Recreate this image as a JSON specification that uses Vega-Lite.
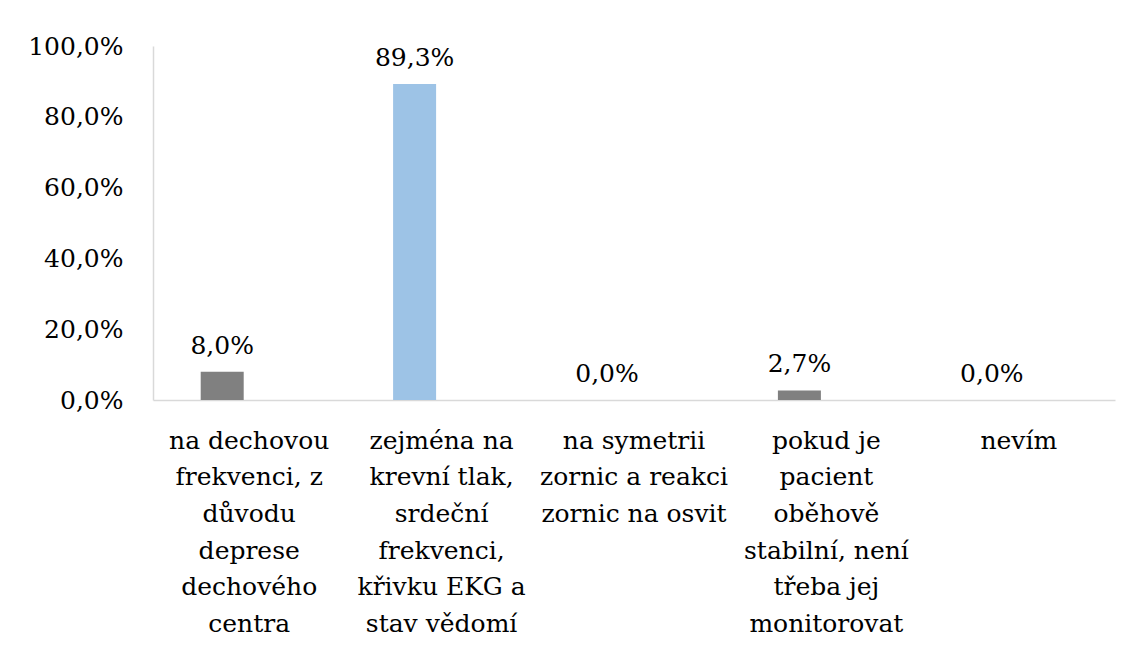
{
  "$schema": "https://vega.github.io/schema/vega-lite/v6.json",
  "autosize": "none",
  "width": 962,
  "height": 354,
  "padding": {"left": 153, "top": 46, "right": 18, "bottom": 248},
  "background": "white",
  "data": {
    "values": [
      {"cat": "na dechovou|frekvenci, z|důvodu|deprese|dechového|centra", "v": 8.0},
      {"cat": "zejména na|krevní tlak,|srdeční|frekvenci,|křivku EKG a|stav vědomí", "v": 89.3},
      {"cat": "na symetrii|zornic a reakci|zornic na osvit", "v": 0.0},
      {"cat": "pokud je|pacient|oběhově|stabilní, není|třeba jej|monitorovat", "v": 2.7},
      {"cat": "nevím", "v": 0.0}
    ]
  },
  "transform": [
    {"calculate": "replace(format(datum.v, '.1f'), '.', ',') + '%'", "as": "lbl"}
  ],
  "encoding": {
    "x": {
      "field": "cat", "type": "nominal", "sort": null,
      "scale": {"paddingInner": 0, "paddingOuter": 0},
      "axis": {
        "title": null, "labelAngle": 0, "ticks": false,
        "domainColor": "#d9d9d9", "domainWidth": 1.5,
        "labelExpr": "split(datum.label, '|')",
        "labelFont": "DejaVu Serif", "labelFontSize": 25, "labelColor": "#000000",
        "labelLineHeight": 36.7, "labelPadding": 28, "labelLimit": 0,
        "labelBaseline": "top"
      }
    },
    "y": {
      "field": "v", "type": "quantitative",
      "scale": {"domain": [0, 100], "nice": false},
      "axis": {
        "title": null, "values": [0, 20, 40, 60, 80, 100], "grid": false, "ticks": false,
        "domainColor": "#d9d9d9", "domainWidth": 1.5,
        "labelExpr": "replace(format(datum.value, '.1f'), '.', ',') + '%'",
        "labelFont": "DejaVu Serif", "labelFontSize": 25, "labelColor": "#000000",
        "labelPadding": 30
      }
    }
  },
  "layer": [
    {
      "mark": {"type": "bar", "width": {"band": 0.2235}, "xOffset": -27},
      "encoding": {
        "color": {
          "field": "cat", "type": "nominal", "sort": null, "legend": null,
          "scale": {"range": ["#808080", "#9dc3e6", "#808080", "#808080", "#808080"]}
        }
      }
    },
    {
      "mark": {"type": "text", "xOffset": -27, "dy": -18, "baseline": "alphabetic", "font": "DejaVu Serif", "fontSize": 25, "color": "#000000"},
      "encoding": {"text": {"field": "lbl"}}
    }
  ],
  "config": {"view": {"stroke": null}}
}
